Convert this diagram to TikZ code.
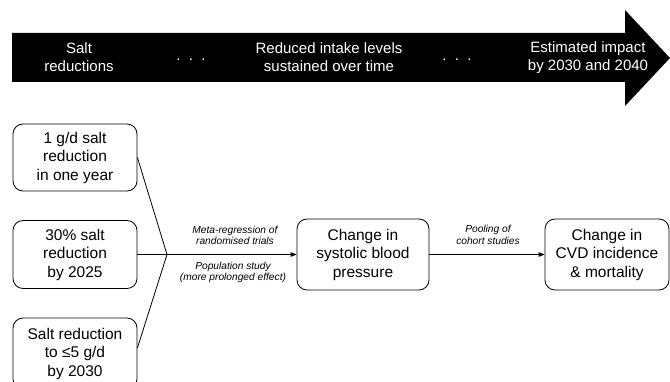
\documentclass[tikz,border=0pt]{standalone}
\usepackage{fontspec}
\setmainfont{Liberation Sans}
\usetikzlibrary{arrows.meta,calc}
\begin{document}
\begin{tikzpicture}[x=1pt,y=-1pt,
  boxtext/.style={font=\fontsize{15.5}{18.5}\selectfont, align=center},
  rbox/.style={boxtext, draw=black, line width=0.8pt, rounded corners=10pt, inner sep=0pt},
  bandtext/.style={font=\fontsize{15}{18}\selectfont, align=center, text=white},
  lbl/.style={font=\fontsize{10.2}{11.5}\selectfont\itshape, align=center},
  conn/.style={line width=0.8pt},
  arr/.style={conn, -{Triangle[length=6pt,width=4.5pt]}}
]
\useasboundingbox (0,0) rectangle (670,382);
% top band arrow
\fill[black] (12,33) -- (625,33) -- (625,10) -- (670,58) -- (625,106) -- (625,82) -- (12,82) -- cycle;
\node[bandtext] (t1) at (79,57.5) {Salt\\reductions};
\node[bandtext, anchor=base] (d1) at (191,61) {.\ \ .\ \ .};
\node[bandtext] (t2) at (329,57.5) {Reduced intake levels\\sustained over time};
\node[bandtext, anchor=base] (d2) at (457,61) {.\ \ .\ \ .};
\node[bandtext] (t3) at (588,57.5) {Estimated impact\\by 2030 and 2040};
% boxes
\node[rbox, minimum width=124pt, minimum height=67pt] (b1) at (75,157.5) {1 g/d salt\\reduction\\in one year};
\node[rbox, minimum width=124pt, minimum height=68pt] (b2) at (75,254.5) {30\% salt\\reduction\\by 2025};
\node[rbox, minimum width=124pt, minimum height=71pt] (b3) at (75,353.5) {Salt reduction\\to ≤5 g/d\\by 2030};
\node[rbox, minimum width=132pt, minimum height=71pt] (mid) at (363,254.5) {Change in\\systolic blood\\pressure};
\node[rbox, minimum width=124pt, minimum height=71pt] (out) at (607,254.5) {Change in\\CVD incidence\\\& mortality};
\coordinate (J) at (167,254.5);
% connectors
\draw[conn] (b1.east) -- (J);
\draw[conn] ($(b3.east)+(0,-5.5)$) -- (J);
\draw[arr] (b2.east) -- (mid.west);
\draw[arr] (mid.east) -- (out.west);
% labels
\node[lbl] (l1) at (235,235.5) {Meta-regression of\\randomised trials};
\node[lbl] (l2) at (233,272.5) {Population study\\(more prolonged effect)};
\node[lbl] (l3) at (488,235) {Pooling of\\cohort studies};
\end{tikzpicture}
\end{document}
